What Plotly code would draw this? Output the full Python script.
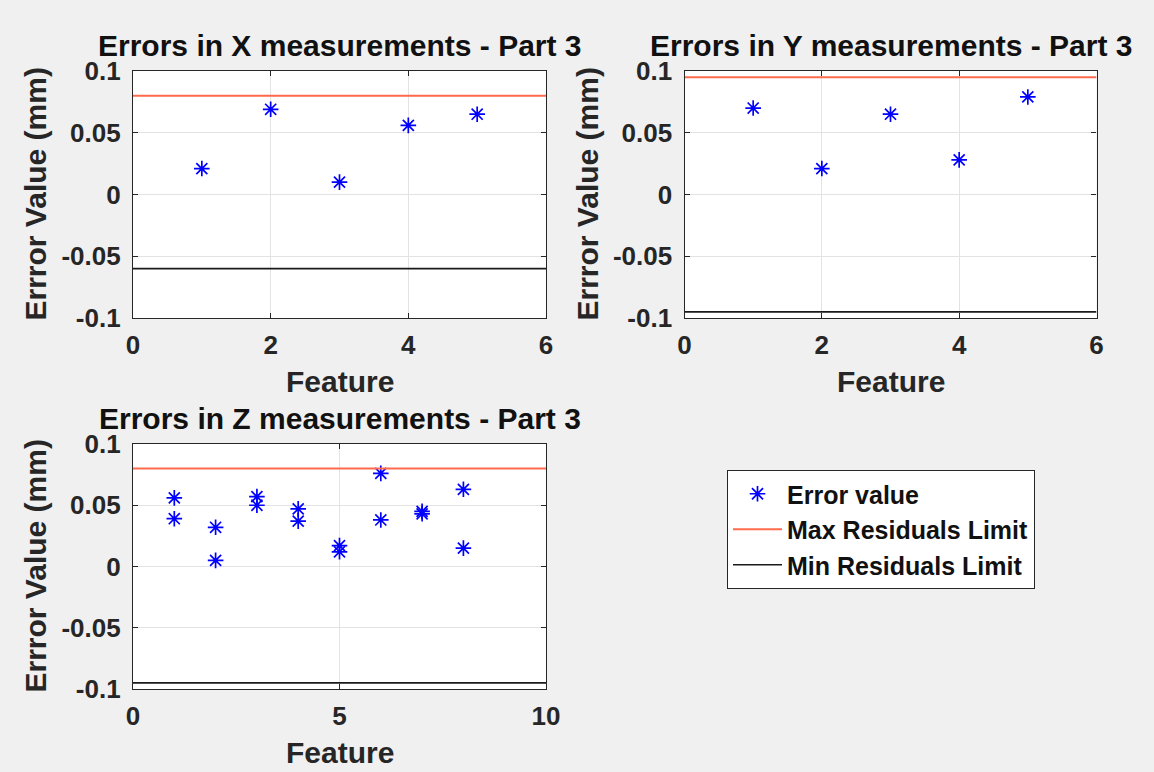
import plotly.graph_objects as go

# ---------------- data ----------------
features_x = [1, 2, 3, 4, 5]
errors_x = [0.021, 0.069, 0.010, 0.056, 0.065]
max_limit_x = 0.08
min_limit_x = -0.06

features_y = [1, 2, 3, 4, 5]
errors_y = [0.070, 0.021, 0.065, 0.028, 0.079]
max_limit_y = 0.095
min_limit_y = -0.095

features_z = [1, 1, 2, 2, 3, 3, 4, 4, 5, 5, 6, 6, 7, 7, 8, 8]
errors_z = [0.056, 0.039, 0.032, 0.005, 0.057, 0.050, 0.047, 0.037,
            0.017, 0.012, 0.076, 0.038, 0.045, 0.043, 0.063, 0.015]
max_limit_z = 0.08
min_limit_z = -0.095

titles = ["Errors in X measurements - Part 3",
          "Errors in Y measurements - Part 3",
          "Errors in Z measurements - Part 3"]
x_ranges = [[0, 6], [0, 6], [0, 10]]
x_ticks = [[0, 2, 4, 6], [0, 2, 4, 6], [0, 5, 10]]
y_ticks = [-0.1, -0.05, 0, 0.05, 0.1]
y_ticktext = ["-0.1", "-0.05", "0", "0.05", "0.1"]
legend_names = ["Error value", "Max Residuals Limit", "Min Residuals Limit"]

# ---------------- layout helpers ----------------
W, H = 1154, 772
FONT = "Liberation Sans, Arial, Helvetica, sans-serif"
TXT = "#262626"
BLUE = "#0000ff"
RED = "#ff6a4d"

def px_x(p):
    return p / W

def px_y(p):
    return 1 - p / H

# panel pixel boxes: (left, right, top, bottom)
boxes = [(133, 546, 71, 318), (684.5, 1096.5, 71, 318), (133, 546, 444, 689)]

fig = go.Figure()

datasets = [
    (features_x, errors_x, max_limit_x, min_limit_x),
    (features_y, errors_y, max_limit_y, min_limit_y),
    (features_z, errors_z, max_limit_z, min_limit_z),
]

for i, (fx, ey, mx, mn) in enumerate(datasets):
    xa = "x" if i == 0 else f"x{i+1}"
    ya = "y" if i == 0 else f"y{i+1}"
    show = (i == 2)
    xr = x_ranges[i]
    fig.add_trace(go.Scatter(
        x=fx, y=ey, mode="markers", name=legend_names[0], showlegend=show,
        xaxis=xa, yaxis=ya,
        marker=dict(symbol="asterisk-open", size=13, color=BLUE,
                    line=dict(color=BLUE, width=1.7)),
    ))
    fig.add_trace(go.Scatter(
        x=xr, y=[mx, mx], mode="lines", name=legend_names[1], showlegend=show,
        xaxis=xa, yaxis=ya, line=dict(color=RED, width=2),
    ))
    fig.add_trace(go.Scatter(
        x=xr, y=[mn, mn], mode="lines", name=legend_names[2], showlegend=show,
        xaxis=xa, yaxis=ya, line=dict(color="#1a1a1a", width=1.6),
    ))

axis_common = dict(
    showline=True, linecolor="#262626", linewidth=1.3, mirror="ticks",
    ticks="inside", ticklen=5, tickcolor="#262626", tickwidth=1.3,
    showgrid=True, gridcolor="#e3e3e3", gridwidth=1, zeroline=False,
    tickfont=dict(family=FONT, size=26, color=TXT, weight="bold"),
    fixedrange=True, automargin=False,
)

layout_axes = {}
for i, (l, r, t, b) in enumerate(boxes):
    xk = "xaxis" if i == 0 else f"xaxis{i+1}"
    yk = "yaxis" if i == 0 else f"yaxis{i+1}"
    xa_anchor = "y" if i == 0 else f"y{i+1}"
    ya_anchor = "x" if i == 0 else f"x{i+1}"
    layout_axes[xk] = dict(axis_common, domain=[px_x(l), px_x(r)],
                           anchor=xa_anchor, range=x_ranges[i],
                           tickvals=x_ticks[i],
                           ticktext=[str(v) for v in x_ticks[i]],
                           ticklabelstandoff=4)
    layout_axes[yk] = dict(axis_common, domain=[px_y(b), px_y(t)],
                           anchor=ya_anchor, range=[-0.1, 0.1],
                           tickvals=y_ticks, ticktext=y_ticktext,
                           ticklabelstandoff=6)

annotations = []
title_font = dict(family=FONT, size=30, color="#111111", weight="bold")
label_font = dict(family=FONT, size=30, color=TXT, weight="bold")
title_y = [46, 46, 418]
feature_y = [381, 381, 752]
for i, (l, r, t, b) in enumerate(boxes):
    cx = (l + r) / 2
    annotations.append(dict(text=titles[i], x=px_x(cx), y=px_y(title_y[i]),
                            xref="paper", yref="paper", showarrow=False,
                            xanchor="center", yanchor="middle", font=title_font))
    annotations.append(dict(text="Feature", x=px_x(cx), y=px_y(feature_y[i]),
                            xref="paper", yref="paper", showarrow=False,
                            xanchor="center", yanchor="middle", font=label_font))
    lx = 35 if l < 300 else 587
    annotations.append(dict(text="Errror Value (mm)", x=px_x(lx),
                            y=px_y((t + b) / 2), xref="paper", yref="paper",
                            showarrow=False, textangle=-90,
                            xanchor="center", yanchor="middle", font=label_font))

fig.update_layout(
    width=W, height=H,
    margin=dict(l=0, r=0, t=0, b=0, pad=0, autoexpand=False),
    paper_bgcolor="#f0f0f0",
    plot_bgcolor="white",
    showlegend=True,
    legend=dict(x=px_x(727), y=px_y(470), xanchor="left", yanchor="top",
                xref="paper", yref="paper",
                bgcolor="white", bordercolor="#262626", borderwidth=1,
                font=dict(family=FONT, size=25, color="#111111", weight="bold"),
                itemwidth=49, tracegroupgap=0),
    annotations=annotations,
    **layout_axes,
)

fig.write_html("out.html")
